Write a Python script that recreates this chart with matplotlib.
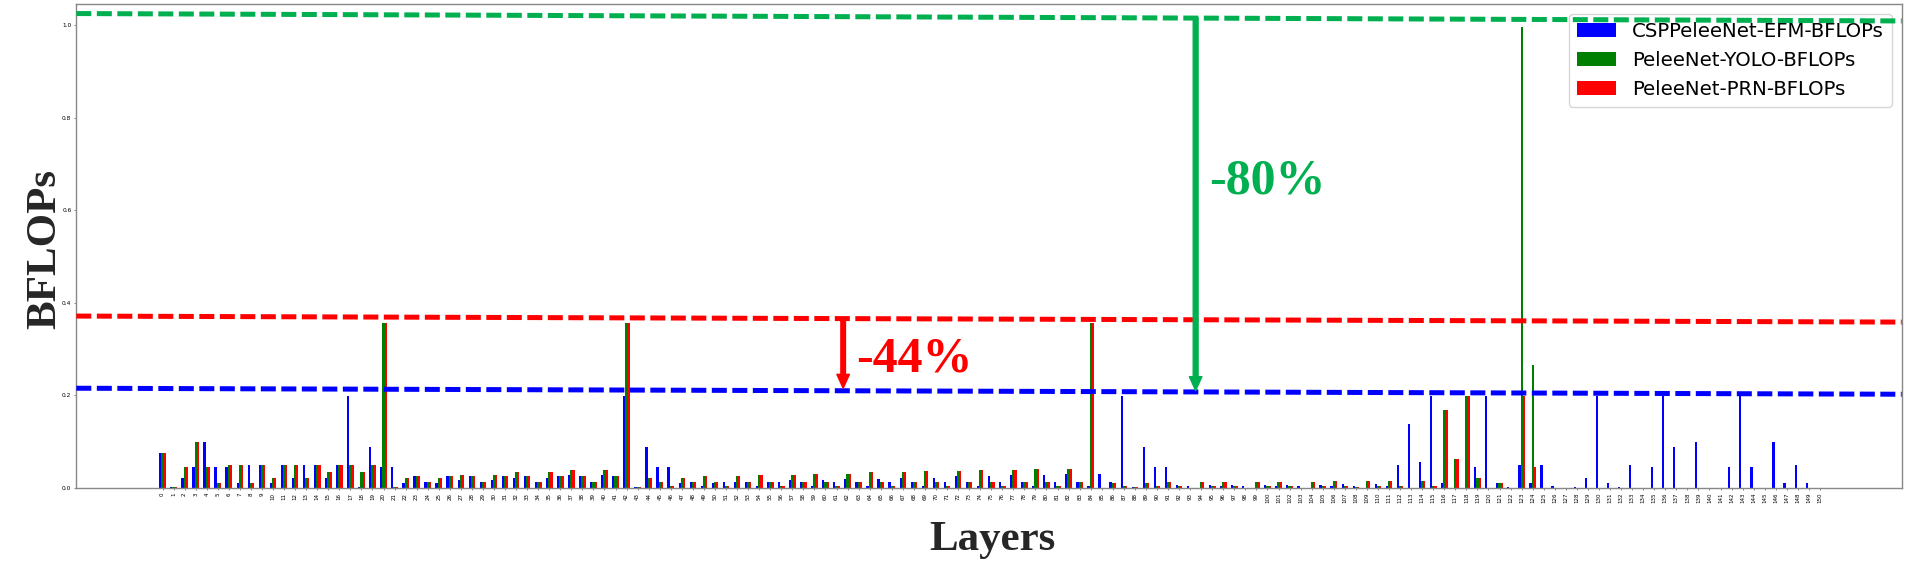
"BFLOPs per layer: CSPPeleeNet-EFM vs PeleeNet-YOLO vs PeleeNet-PRN"

# import libs
import matplotlib.pyplot as plt
import numpy as np

# layer indices
layers = list(range(151))

# BFLOPs per layer, CSPPeleeNet-EFM
csp_efm = [
    .074, .001, .022, .044, .099, .044, .044, .011, .050, .050,
    .011, .050, .022, .050, .050, .022, .050, .199, .001, .089,
    .044, .044, .011, .025, .012, .011, .025, .017, .025, .012,
    .017, .025, .022, .025, .012, .022, .025, .027, .025, .012,
    .027, .025, .199, .001, .089, .044, .044, .011, .012, .003,
    .011, .012, .012, .012, .003, .012, .012, .017, .012, .003,
    .017, .012, .019, .012, .003, .019, .012, .022, .012, .003,
    .022, .012, .025, .012, .003, .025, .012, .027, .012, .003,
    .027, .012, .030, .012, .003, .030, .012, .199, .0005, .089,
    .044, .044, .006, .003, 0, .006, .003, .006, .003, 0,
    .006, .003, .006, .003, 0, .006, .003, .007, .003, 0,
    .007, .003, .050, .138, .055, .199, .011, 0, 0, .044,
    .199, .011, .001, .050, .011, .050, .003, 0, .001, .022,
    .199, .011, .001, .050, 0, .044, .199, .089, 0, .099,
    0, 0, .044, .199, .044, 0, .099, .011, .050, .011,
    0,
]

# BFLOPs per layer, PeleeNet-YOLO
pelee_yolo = [
    .074, .001, .044, .099, .044, .011, .050, .050, .011, .050,
    .022, .050, .050, .022, .050, .033, .050, .050, .033, .050,
    .355, .001, .022, .025, .012, .022, .025, .027, .025, .012,
    .027, .025, .033, .025, .012, .033, .025, .039, .025, .012,
    .039, .025, .355, .001, .022, .012, .003, .022, .012, .025,
    .012, .003, .025, .012, .027, .012, .003, .027, .012, .030,
    .012, .003, .030, .012, .033, .012, .003, .033, .012, .036,
    .012, .003, .036, .012, .039, .012, .003, .039, .012, .041,
    .012, .003, .041, .012, .355, 0, .011, .003, .0005, .011,
    .003, .012, .003, 0, .012, .003, .012, .003, 0, .012,
    .003, .012, .003, 0, .012, .003, .014, .003, .001, .014,
    .003, .014, .003, 0, .014, .003, .167, .061, .199, .022,
    0, .011, 0, .996, .266, 0, 0, 0, 0, 0,
    0, 0, 0, 0, 0, 0, 0, 0, 0, 0,
    0, 0, 0, 0, 0, 0, 0, 0, 0, 0,
    0,
]

# BFLOPs per layer, PeleeNet-PRN (same as YOLO except the head)
pelee_prn = list(pelee_yolo)
pelee_prn[123] = .199
pelee_prn[124] = .044

# reference levels (dashed lines, left end / right end)
yolo_level = [1.025, 1.009]
prn_level = [0.371, 0.358]
efm_level = [0.215, 0.202]

x = np.array(layers)
w = 0.2

fig = plt.figure(figsize=(19.13, 5.88), dpi=100)
ax = fig.add_axes([0.0399, 0.1706, 0.9542, 0.8221])

ax.bar(x - w, csp_efm, w, color="blue", label="CSPPeleeNet-EFM-BFLOPs")
ax.bar(x, pelee_yolo, w, color="green", label="PeleeNet-YOLO-BFLOPs")
ax.bar(x + w, pelee_prn, w, color="red", label="PeleeNet-PRN-BFLOPs")

ax.set_xlim(-7.8, 157.4)
ax.set_ylim(0, 1.045)
ax.set_xticks(x)
ax.set_xticklabels([str(i) for i in layers], rotation=90, fontsize=4)
ax.set_yticks([0.0, 0.2, 0.4, 0.6, 0.8, 1.0])
ax.tick_params(axis="y", labelsize=4.2)
ax.tick_params(length=1.5, width=0.5, color="#555555", pad=2)
for s in ax.spines.values():
    s.set_color("#888888")
    s.set_linewidth(1.0)

ax.legend(loc="upper right", fontsize=14.2)

# dashed level lines, drawn above the legend
yt = ax.get_yaxis_transform()
ax.plot([0, 1], yolo_level, transform=yt, color="#00B050", lw=3.6,
        dashes=(3, 1.1), zorder=6, clip_on=False)
ax.plot([0, 1], prn_level, transform=yt, color="#FF0000", lw=3.6,
        dashes=(3, 1.1), zorder=6)
ax.plot([0, 1], efm_level, transform=yt, color="#0000FF", lw=3.6,
        dashes=(3, 1.1), zorder=6)

# arrows
ax.annotate("", xy=(93.5, 0.210), xytext=(93.5, 1.016),
            arrowprops=dict(facecolor="#00B050", edgecolor="#00B050",
                            width=3.5, headwidth=9, headlength=10, shrink=0),
            zorder=7)
ax.annotate("", xy=(61.6, 0.215), xytext=(61.6, 0.364),
            arrowprops=dict(facecolor="#FF0000", edgecolor="#FF0000",
                            width=3.3, headwidth=9, headlength=10, shrink=0),
            zorder=7)

ax.text(94.7, 0.637, "-80%", color="#00B050", fontsize=36, fontweight="bold",
        family="Liberation Serif", ha="left", va="baseline", zorder=7)
ax.text(62.8, 0.252, "-44%", color="#FF0000", fontsize=36, fontweight="bold",
        family="Liberation Serif", ha="left", va="baseline", zorder=7)

# axis titles
fig.text(55 / 1913, 1 - 249 / 588, "BFLOPs", rotation=90, rotation_mode="anchor",
         ha="center", va="baseline", fontsize=31, fontweight="bold",
         family="Liberation Serif", color="#262626")
fig.text(992 / 1913, 1 - 550 / 588, "Layers", ha="center", va="baseline",
         fontsize=31, fontweight="bold", family="Liberation Serif",
         color="#262626")

fig.savefig("out.png", dpi=100)
